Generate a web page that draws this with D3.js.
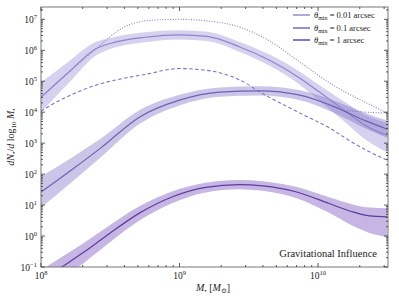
<!DOCTYPE html>
<html><head><meta charset="utf-8">
<script src="https://cdn.jsdelivr.net/npm/d3@7"></script>
<style>body{margin:0;background:#fff}svg{display:block}text{font-family:"Liberation Serif","DejaVu Serif",serif;fill:#222}</style>
</head><body><svg id="c" width="399" height="299"></svg>
<script>
// log10(M) grid and log10(dN/dlogM) values
const lmA = [8.0,8.2,8.4,8.5,8.75,9.0,9.2,9.44,9.65,9.87,10.01,10.21,10.35,10.5];
const vA  = [4.48,5.29,6.06,6.22,6.42,6.5,6.45,6.1,5.68,5.1,4.65,4.0,3.55,3.25];
const upA = [0.48,0.35,0.22,0.18,0.16,0.15,0.15,0.16,0.18,0.2,0.22,0.28,0.34,0.4];
const loA = [0.48,0.35,0.22,0.18,0.16,0.15,0.15,0.16,0.18,0.22,0.28,0.38,0.46,0.55];

const lmB = [8.0,8.21,8.43,8.71,9.0,9.29,9.58,9.87,10.11,10.35,10.5];
const vB  = [1.42,2.1,2.84,3.84,4.39,4.65,4.69,4.55,4.19,3.71,3.45];
const hwB = [0.5,0.4,0.3,0.22,0.17,0.15,0.15,0.16,0.2,0.25,0.28];

const lmC = [8.0,8.15,8.3,8.47,8.71,8.95,9.19,9.43,9.6,9.84,10.08,10.25,10.37,10.5];
const vC  = [-1.45,-1.0,-0.55,0.0,0.74,1.27,1.57,1.66,1.62,1.43,1.05,0.78,0.65,0.62];
const upC = [0.35,0.32,0.3,0.27,0.22,0.18,0.15,0.15,0.15,0.16,0.2,0.24,0.27,0.28];
const loC = [0.4,0.38,0.35,0.3,0.24,0.2,0.16,0.15,0.16,0.2,0.3,0.45,0.55,0.65];

const lmDot = [8.0,8.2,8.4,8.6,8.8,9.0,9.2,9.44,9.65,9.85,10.11,10.35,10.5];
const vDot  = [4.48,5.29,6.06,6.75,6.97,7.0,6.95,6.74,6.3,5.68,4.87,4.3,3.97];
const lmDot2 = [10.21,10.35,10.5];
const vDot2  = [4.05,4.0,3.97];

const lmDash = [8.0,8.1,8.2,8.3,8.4,8.55,8.75,9.0,9.2,9.44,9.6,9.87,10.11,10.22,10.35,10.5];
const vDash  = [4.03,4.3,4.52,4.72,4.88,5.05,5.22,5.41,5.35,5.03,4.6,3.97,3.42,3.1,2.77,2.45];

const legendLabels = ["0.01 arcsec","0.1 arcsec","1 arcsec"];
const yTicks = [-1,0,1,2,3,4,5,6,7];
const xTicks = [8,9,10];

const W=399,H=299, m={l:41,r:11,t:7,b:32};
const svg=d3.select("#c");
const x=d3.scaleLog().domain([1e8,Math.pow(10,10.505)]).range([m.l,W-m.r]);
const y=d3.scaleLog().domain([0.1,2.5e7]).range([H-m.b,m.t]);

svg.append("clipPath").attr("id","clip").append("rect")
  .attr("x",m.l).attr("y",m.t).attr("width",W-m.l-m.r).attr("height",H-m.t-m.b);
const g=svg.append("g").attr("clip-path","url(#clip)");

const P=(lm,v)=>lm.map((d,i)=>({x:Math.pow(10,d),y:Math.pow(10,v[i])}));
const line=d3.line().x(d=>x(d.x)).y(d=>y(d.y)).curve(d3.curveMonotoneX);
const area=d3.area().x(d=>x(d.x)).y0(d=>y(d.lo)).y1(d=>y(d.hi)).curve(d3.curveMonotoneX);
const band=(lm,v,up,lo)=>lm.map((d,i)=>({x:Math.pow(10,d),hi:Math.pow(10,v[i]+up[i]),lo:Math.pow(10,v[i]-lo[i])}));

const series=[
 {lm:lmA,v:vA,up:upA,lo:loA,fill:"rgb(155,146,214)",op:0.42,stroke:"#8e85cb",w:1.2},
 {lm:lmB,v:vB,up:hwB,lo:hwB,fill:"rgb(130,116,198)",op:0.42,stroke:"#6c61b4",w:1.2},
 {lm:lmC,v:vC,up:upC,lo:loC,fill:"rgb(138,102,196)",op:0.48,stroke:"#5a3d9e",w:1.2}
];
series.forEach(s=>{
  g.append("path").attr("d",area(band(s.lm,s.v,s.up,s.lo))).attr("fill",s.fill).attr("fill-opacity",s.op);
});
g.append("path").attr("d",line(P(lmDot,vDot))).attr("fill","none").attr("stroke","#8880cc").attr("stroke-width",1.1).attr("stroke-dasharray","1,1.6");
g.append("path").attr("d",line(P(lmDot2,vDot2))).attr("fill","none").attr("stroke","#7b72c2").attr("stroke-width",1.1).attr("stroke-dasharray","1,1.6");
g.append("path").attr("d",line(P(lmDash,vDash))).attr("fill","none").attr("stroke","#7b72c2").attr("stroke-width",1.1).attr("stroke-dasharray","3.5,2.5");
series.forEach(s=>{
  g.append("path").attr("d",line(P(s.lm,s.v))).attr("fill","none").attr("stroke",s.stroke).attr("stroke-width",s.w);
});

// frame
const ax=svg.append("g");
ax.append("rect").attr("x",m.l).attr("y",m.t).attr("width",W-m.l-m.r).attr("height",H-m.t-m.b)
  .attr("fill","none").attr("stroke","#777").attr("stroke-width",1);
// ticks
const tcol="#333";
const x0=x.range()[0],x1=x.range()[1],y0=y.range()[0],y1=y.range()[1];
const xmin=[],ymin=[];
for(let e=8;e<=10;e++)for(let k=2;k<=9;k++){const v=k*Math.pow(10,e);if(v<=x.domain()[1])xmin.push(v);}
for(let e=-1;e<=7;e++)for(let k=2;k<=9;k++){const v=k*Math.pow(10,e);if(v<=y.domain()[1])ymin.push(v);}
const tk=(x1_,y1_,x2_,y2_)=>ax.append("line").attr("x1",x1_).attr("y1",y1_).attr("x2",x2_).attr("y2",y2_).attr("stroke",tcol).attr("stroke-width",0.8);
xTicks.forEach(e=>{const px=x(Math.pow(10,e));tk(px,y0,px,y0-4);tk(px,y1,px,y1+4);});
xmin.forEach(v=>{const px=x(v);tk(px,y0,px,y0-2);tk(px,y1,px,y1+2);});
yTicks.forEach(e=>{const py=y(Math.pow(10,e));tk(x0,py,x0+4,py);tk(x1,py,x1-4,py);});
ymin.forEach(v=>{const py=y(v);tk(x0,py,x0+2,py);tk(x1,py,x1-2,py);});

// tick labels
yTicks.forEach(e=>{
  const t=ax.append("text").attr("x",x0-4).attr("y",y(Math.pow(10,e))+3.5).attr("text-anchor","end").attr("font-size",9.5);
  t.append("tspan").text("10");
  t.append("tspan").attr("dy",-4).attr("font-size",6.5).text(e<0?"\u2212"+(-e):e);
});
xTicks.forEach(e=>{
  const t=ax.append("text").attr("x",x(Math.pow(10,e))).attr("y",y0+12).attr("text-anchor","middle").attr("font-size",9.5);
  t.append("tspan").text("10");
  t.append("tspan").attr("dy",-4).attr("font-size",6.5).text(e);
});

// axis labels
const xl=svg.append("text").attr("x",213).attr("y",291).attr("text-anchor","middle").attr("font-size",10);
xl.append("tspan").attr("font-style","italic").text("M");
xl.append("tspan").attr("dy",2).attr("font-size",7).text("\u2022");
xl.append("tspan").attr("dy",-2).text(" [");
xl.append("tspan").attr("font-style","italic").text("M");
xl.append("tspan").attr("dy",2).attr("font-size",7).text("\u2299");
xl.append("tspan").attr("dy",-2).text("]");

const yl=svg.append("text").attr("transform","translate(14,137) rotate(-90)").attr("text-anchor","middle").attr("font-size",10);
yl.append("tspan").attr("font-style","italic").text("dN");
yl.append("tspan").attr("dy",2).attr("font-size",7).text("\u2022");
yl.append("tspan").attr("dy",-2).text("/");
yl.append("tspan").attr("font-style","italic").text("d");
yl.append("tspan").text(" log");
yl.append("tspan").attr("dy",2).attr("font-size",7).text("10");
yl.append("tspan").attr("dy",-2).text(" ");
yl.append("tspan").attr("font-style","italic").text("M");
yl.append("tspan").attr("dy",2).attr("font-size",7).text("\u2022");

svg.append("text").attr("x",377).attr("y",257).attr("text-anchor","end").attr("font-size",10.5).text("Gravitational Influence");

// legend
const legY=[15,28,40];
legendLabels.forEach((lab,i)=>{
  svg.append("line").attr("x1",293).attr("x2",310).attr("y1",legY[i]).attr("y2",legY[i])
    .attr("stroke",series[i].stroke).attr("stroke-width",1.4);
  const t=svg.append("text").attr("x",314).attr("y",legY[i]+3).attr("font-size",8.5);
  t.append("tspan").attr("font-style","italic").text("\u03b8");
  t.append("tspan").attr("dy",1.5).attr("font-size",6).text("min");
  t.append("tspan").attr("dy",-1.5).text(" = "+lab);
});
</script></body></html>
